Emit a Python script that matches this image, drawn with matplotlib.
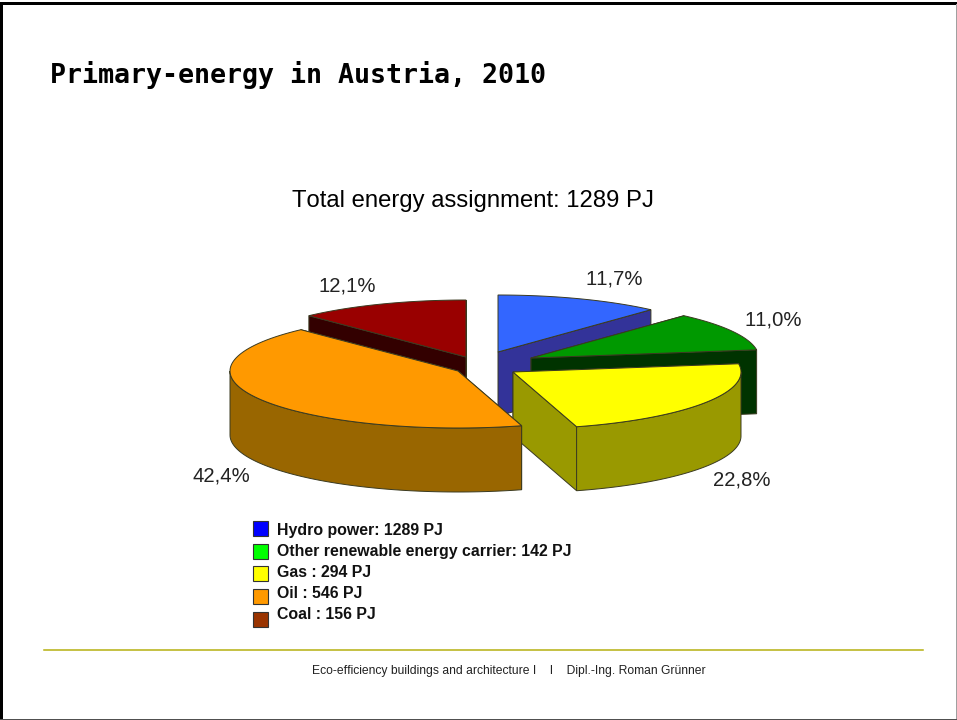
import matplotlib
matplotlib.use('Agg')
import matplotlib.pyplot as plt
from matplotlib.patches import Polygon, Rectangle
import numpy as np

plt.rcParams['text.kerning_factor'] = 6

# share of primary energy, percent, clockwise from 12 o'clock
sources = ['Hydro power', 'Other renewable', 'Gas', 'Oil', 'Coal']
shares = [11.7, 11.0, 22.8, 42.4, 12.1]
share_labels = ['11,7%', '11,0%', '22,8%', '42,4%', '12,1%']

legend_labels = ['Hydro power: 1289 PJ', 'Other renewable energy carrier: 142 PJ',
                 'Gas : 294 PJ', 'Oil : 546 PJ', 'Coal : 156 PJ']
legend_colors = ['#0000ff', '#00ff00', '#ffff00', '#ff9900', '#993300']

top_colors = ['#3366ff', '#009900', '#ffff00', '#ff9900', '#990000']
wall_colors = ['#333399', '#003300', '#999900', '#996600', '#330000']

# where each exploded slice has its tip, and where its label goes (picture pixels)
tips = [(498, 352), (531, 358), (513, 372), (458, 371), (466, 357)]
label_pos = [(614, 279), (773, 320), (742, 480), (221, 476), (347, 286)]
draw_order = [0, 4, 1, 2, 3]

RX, RY = 228, 57
DEPTH = 64
EDGE = '#3a3a20'


def rim(tip, start, stop):
    """Points on the ellipse between two angles (degrees clockwise from top)."""
    a = np.radians(np.linspace(start, stop, 80))
    return np.column_stack((tip[0] + RX * np.sin(a), tip[1] - RY * np.cos(a)))


def draw_slice(ax, i, start, stop):
    tip = np.array(tips[i], dtype=float)
    arc = rim(tip, start, stop)
    drop = np.array([0, DEPTH])
    # flat cut faces
    for end in (arc[0], arc[-1]):
        face = [tip, end, end + drop, tip + drop]
        ax.add_patch(Polygon(face, fc=wall_colors[i], ec=EDGE, lw=0.7))
    # curved outer wall, only the part facing the viewer
    if stop > 90 and start < 270:
        a0, a1 = max(start, 90), min(stop, 270)
        front = rim(tip, a0, a1)
        wall = np.vstack((front, (front + drop)[::-1]))
        ax.add_patch(Polygon(wall, fc=wall_colors[i], ec=EDGE, lw=0.7))
    top = np.vstack(([tip], arc))
    ax.add_patch(Polygon(top, fc=top_colors[i], ec=EDGE, lw=0.7))


fig = plt.figure(figsize=(9.57, 7.2), dpi=100)
ax = fig.add_axes([0, 0, 1, 1])
ax.set_xlim(0, 957)
ax.set_ylim(720, 0)
ax.axis('off')

# slide frame
ax.add_patch(Rectangle((0, 1.5), 957, 3, fc='black', ec='none'))
ax.add_patch(Rectangle((0, 1.5), 2.5, 718, fc='black', ec='none'))
ax.add_patch(Rectangle((955.5, 4), 1.5, 716, fc='#a0a0a0', ec='none'))
ax.add_patch(Rectangle((0, 718.5), 957, 1.5, fc='#505050', ec='none'))

ax.text(50, 75, 'Primary-energy in Austria, 2010', family='DejaVu Sans Mono',
        weight='bold', fontsize=19.2, va='center', ha='left', color='black')
ax.text(473, 201.5, 'Total energy assignment: 1289 PJ', family='Liberation Sans',
        fontsize=17.2, va='center', ha='center', color='black')

# pie
edges = np.cumsum([0] + shares) / sum(shares) * 360
for i in draw_order:
    draw_slice(ax, i, edges[i], edges[i + 1])

for txt, (x, y) in zip(share_labels, label_pos):
    ax.text(x, y, txt, family='Liberation Sans', fontsize=14.6, va='center',
            ha='center', color='#222222')

# legend
for k, (lab, col) in enumerate(zip(legend_labels, legend_colors)):
    box_y = 528.5 + k * 22.7
    text_y = 530 + k * 21.1
    ax.add_patch(Rectangle((252.5, box_y - 7.5), 15, 15, fc=col, ec='#333333', lw=0.8))
    ax.text(277, text_y, lab, family='Liberation Sans', weight='bold',
            fontsize=11.45, va='center', ha='left', color='#111111')

# footer
ax.plot([44, 923], [650, 650], color='#b5b010', lw=1.1)
ax.text(508.5, 671, 'Eco-efficiency buildings and architecture I    I    Dipl.-Ing. Roman Grünner',
        family='Liberation Sans', fontsize=8.7, va='center', ha='center', color='#222222')

fig.savefig('out.png', dpi=100)
